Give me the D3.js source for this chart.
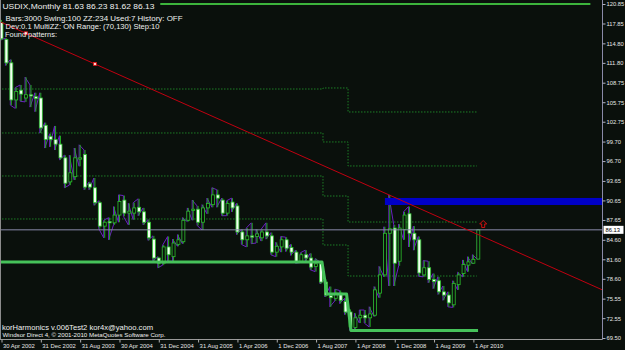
<!DOCTYPE html>
<html><head><meta charset="utf-8">
<script src="https://cdn.jsdelivr.net/npm/d3@7"></script>
<style>body{margin:0;background:#0a100c;overflow:hidden}svg{display:block}</style>
</head><body>
<svg id="c" width="625" height="350"></svg>
<script>
// ---- data (monthly bars, index 0 = Apr 2002 ... 97 = May 2010) ----
const opens  = [118.0,115.4,111.8,106.1,107.6,106.4,106.9,106.6,106.4,102.2,100.5,100.0,99.3,97.2,93.5,94.3,97.0,97.7,93.2,92.6,90.3,86.7,87.4,87.2,88.4,90.7,88.7,88.7,89.6,88.9,87.3,84.7,81.8,81.0,83.5,82.0,83.9,84.3,87.6,89.1,89.3,87.3,89.5,90.0,91.5,90.7,88.7,90.4,89.8,85.8,84.6,85.2,85.1,84.9,85.8,85.2,82.7,83.5,84.6,83.4,82.7,81.3,82.3,81.8,80.5,80.9,78.1,76.0,75.6,76.4,75.1,73.5,71.1,72.6,73.0,72.6,73.0,76.4,79.2,85.6,86.4,81.3,86.2,88.6,85.6,84.6,79.2,80.3,78.5,78.3,76.6,76.1,74.6,77.7,79.4,80.7,81.0,81.63];
const highs  = [118.4,115.6,112.3,108.0,108.4,109.6,108.4,107.2,107.2,102.6,100.9,102.1,100.6,97.6,97.6,98.7,99.2,98.4,93.5,94.1,90.6,87.6,88.0,89.7,91.5,91.4,90.2,90.3,90.9,89.5,87.7,85.2,82.0,83.8,85.1,84.7,85.4,88.0,89.5,90.7,89.8,90.0,91.0,92.6,92.3,91.0,90.6,91.0,90.2,86.2,86.4,87.2,86.2,86.2,87.2,85.7,84.2,85.1,85.0,83.9,83.0,82.6,83.0,82.5,81.7,81.2,78.5,77.4,77.0,76.8,75.6,73.9,73.3,73.8,73.8,74.3,77.4,80.5,86.6,91.5,86.9,87.0,88.9,89.7,86.7,85.1,81.4,81.3,79.4,78.9,77.5,76.6,78.3,79.6,81.5,82.0,82.3,86.23];
const lows   = [115.3,111.4,105.3,104.8,105.9,105.8,105.0,104.3,101.0,98.7,98.9,98.4,96.9,92.6,93.0,93.8,95.9,92.3,92.3,89.9,86.3,84.9,84.6,86.9,87.3,88.2,86.9,87.7,88.3,86.9,84.5,81.3,80.3,80.7,81.3,81.3,83.6,84.0,87.4,87.6,86.8,86.1,88.6,89.6,89.6,88.3,88.3,88.9,85.4,83.9,83.5,84.0,84.1,84.4,84.7,82.3,82.0,82.7,82.8,82.2,81.0,81.1,81.3,80.0,79.7,77.8,75.8,74.3,75.2,74.8,73.1,70.7,70.8,71.8,71.8,71.2,72.8,75.7,78.9,77.5,77.5,80.6,84.6,83.5,83.0,79.0,78.9,78.0,77.1,76.2,75.3,74.3,74.2,76.9,78.9,79.7,80.9,81.62];
const closes = [115.5,111.8,106.1,107.4,107.0,106.9,106.7,106.3,101.8,100.0,100.0,99.3,97.2,93.3,94.9,97.2,97.2,92.7,92.7,90.3,86.7,87.3,87.2,88.4,90.5,88.7,89.0,89.5,88.9,87.3,84.9,81.8,81.0,83.5,82.3,84.1,84.6,87.6,89.0,89.3,87.3,89.5,90.2,91.5,91.0,88.7,90.2,89.5,85.8,84.6,85.2,85.0,85.5,85.8,85.2,82.7,83.6,84.6,83.3,82.7,81.2,82.3,81.8,80.4,80.9,78.1,76.1,75.7,76.4,75.3,73.5,71.2,72.6,73.0,72.6,73.2,76.9,79.2,85.6,86.3,81.0,86.4,88.4,85.6,84.6,79.5,80.3,78.5,78.2,76.6,76.1,74.9,77.9,79.2,80.8,81.2,81.6,86.13];

const xTickIdx    = [0,8,16,24,32,40,48,56,64,72,80,88,96];
const xTickLabels = ["30 Apr 2002","31 Dec 2002","31 Aug 2003","30 Apr 2004","31 Dec 2004","31 Aug 2005","1 Apr 2006","1 Dec 2006","1 Aug 2007","1 Apr 2008","1 Dec 2008","1 Aug 2009","1 Apr 2010"];
const yTickLabels = ["120.85","117.85","114.80","111.80","108.75","105.75","102.75","99.70","96.70","93.65","90.65","87.65","84.60","81.60","78.60","75.55","72.55","69.50"];
const yTickValues = yTickLabels.map(Number);

// indicator levels
const bandIdx = [-0.5, 65.4, 70.5, 96.7];
const band1 = [107.78, 107.94, 104.25];
const band2 = [101.02, 99.64, 95.95];
const band3 = [94.41, 91.33, 87.33];
const band4 = [87.80, 83.80, 79.03];
const supportIdx = [-0.5, 65.2, 66.2, 70.2, 71.1, 96.95];
const supportVal = [81.18, 81.18, 76.26, 76.26, 70.65, 70.65];
const topLineIdx = [32.3, 119.8];
const topLineVal = [120.85, 120.85];
const trendIdx = [5, 19];
const trendVal = [116.34, 111.63];
const zoneIdx = 78;
const zoneVal = [91.03, 89.95];
const lastPrice = 86.13;
const arrowIdx = 98, arrowVal = 87.03;

const titleText = "USDIX,Monthly  81.63 86.23 81.62 86.13";
const infoLines = ["Bars:3000  Swing:100  ZZ:234  Used:7  History: OFF","Dev:0.1  MultiZZ: ON  Range: (70,130)  Step:10","Found patterns:"];
const footer1 = "korHarmonics v.006Test2 kor4x@yahoo.com";
const footer2 = "Windsor Direct 4, \u00A9 2001-2010 MetaQuotes Software Corp.";

// ---- drawing ----
const W = 625, H = 350, PR = 602.5, PB = 339.5;
const svg = d3.select("#c");
const x = d3.scaleLinear().domain([0, 97]).range([1.5, 478.3]);
const y = d3.scaleLinear().domain([69.5, 120.85]).range([338, 4]);
const FONT = "'Liberation Sans', Arial, sans-serif";

svg.append("rect").attr("width", W).attr("height", H).attr("fill", "#0a100c");
svg.append("defs").append("clipPath").attr("id", "plot")
  .append("rect").attr("x", 0).attr("y", 0).attr("width", PR).attr("height", PB);
const g = svg.append("g").attr("clip-path", "url(#plot)");

// dotted bands
const stepLine = d3.line().curve(d3.curveStepAfter).x(d => x(d[0])).y(d => y(d[1]));
[band1, band2, band3, band4].forEach(b => {
  const pts = b.map((v, k) => [bandIdx[k], v]);
  pts.push([bandIdx[3], b[2]]);
  g.append("path").attr("d", stepLine(pts)).attr("fill", "none")
    .attr("stroke", "#1d7f26").attr("stroke-width", 1).attr("stroke-dasharray", "1.5,1.5");
});

// purple trace
const bars = d3.range(opens.length);
const ppts = [];
bars.forEach(i => {
  if (closes[i] >= opens[i]) { ppts.push([i, lows[i]]); ppts.push([i, highs[i]]); }
  else { ppts.push([i, highs[i]]); ppts.push([i, lows[i]]); }
});
g.append("path").attr("d", d3.line().x(d => x(d[0]) - 1).y(d => y(d[1]))(ppts))
  .attr("fill", "none").attr("stroke", "#6a22c0").attr("stroke-width", 1);

// candles
const cg = g.append("g");
cg.selectAll("line.w").data(bars).join("line")
  .attr("x1", i => x(i)).attr("x2", i => x(i))
  .attr("y1", i => y(highs[i])).attr("y2", i => y(lows[i]))
  .attr("stroke", "#22a822").attr("stroke-width", 1);
cg.selectAll("rect.b").data(bars).join("rect")
  .attr("x", i => x(i) - 1.5).attr("width", 3)
  .attr("y", i => y(Math.max(opens[i], closes[i])))
  .attr("height", i => Math.max(1, Math.abs(y(opens[i]) - y(closes[i]))))
  .attr("fill", i => closes[i] >= opens[i] ? "#0a100c" : "#f2fff2")
  .attr("stroke", "#2cc02c").attr("stroke-width", 0.8);

// support lines
g.append("path").attr("d", d3.line().x(d => x(d[0])).y(d => y(d[1]))(supportIdx.map((v, k) => [v, supportVal[k]])))
  .attr("fill", "none").attr("stroke", "#46c25a").attr("stroke-width", 3).attr("stroke-linejoin", "round");
g.append("path").attr("d", d3.line().x(d => x(d[0])).y(d => y(d[1]))(topLineIdx.map((v, k) => [v, topLineVal[k]])))
  .attr("fill", "none").attr("stroke", "#3cb43c").attr("stroke-width", 2);

// blue zone
g.append("rect").attr("x", x(zoneIdx)).attr("width", PR - x(zoneIdx))
  .attr("y", y(zoneVal[0])).attr("height", y(zoneVal[1]) - y(zoneVal[0])).attr("fill", "#0000c8");

// current price line
g.append("line").attr("x1", 0).attr("x2", PR).attr("y1", y(lastPrice)).attr("y2", y(lastPrice))
  .attr("stroke", "#8a8aaa").attr("stroke-width", 1);

// trend line
const slope = (trendVal[1] - trendVal[0]) / (trendIdx[1] - trendIdx[0]);
const tl = i => trendVal[0] + slope * (i - trendIdx[0]);
const i0 = x.invert(0), i1 = x.invert(PR);
g.append("line").attr("x1", x(i0)).attr("y1", y(tl(i0))).attr("x2", x(i1)).attr("y2", y(tl(i1)))
  .attr("stroke", "#c00010").attr("stroke-width", 1);
trendIdx.forEach((t, k) => {
  g.append("rect").attr("x", x(t) - 1.5).attr("y", y(trendVal[k]) - 1.5).attr("width", 3).attr("height", 3)
    .attr("fill", "#ffd0d0").attr("stroke", "#e01010").attr("stroke-width", 0.8);
});

// arrow
const ax = x(arrowIdx), ay = y(arrowVal);
g.append("path")
  .attr("d", `M${ax},${ay-3.5} L${ax+3.5},${ay} L${ax+1.5},${ay} L${ax+1.5},${ay+3.5} L${ax-1.5},${ay+3.5} L${ax-1.5},${ay} L${ax-3.5},${ay} Z`)
  .attr("fill", "none").attr("stroke", "#d01010").attr("stroke-width", 1);

// frame
svg.append("line").attr("x1", 0.5).attr("x2", 0.5).attr("y1", 0).attr("y2", PB).attr("stroke", "#8c8c8c");
svg.append("line").attr("x1", 0).attr("x2", PR).attr("y1", PB).attr("y2", PB).attr("stroke", "#9a9a9a");

// right axis
const ra = svg.append("g").attr("transform", `translate(${PR},0)`)
  .call(d3.axisRight(y).tickValues(yTickValues).tickFormat((d, k) => yTickLabels[k]).tickSize(3).tickPadding(1));
ra.select(".domain").attr("stroke", "#8a8aa8").attr("d", `M0,0V${PB}`);
ra.selectAll(".tick line").attr("stroke", "#b0b0c0");
ra.selectAll(".tick text").attr("fill", "#e6e6e6").attr("font-family", FONT).attr("font-size", 5.8);

// price label box
svg.append("rect").attr("x", PR + 1).attr("y", y(lastPrice) - 4).attr("width", 20).attr("height", 8).attr("fill", "#ffffff");
svg.append("text").attr("x", PR + 3).attr("y", y(lastPrice) + 2.2).text("86.13")
  .attr("fill", "#000").attr("font-family", FONT).attr("font-size", 5.8);

// bottom axis
const ba = svg.append("g").attr("transform", `translate(0,${PB})`)
  .call(d3.axisBottom(x).tickValues(xTickIdx).tickFormat((d, k) => xTickLabels[k]).tickSize(3));
ba.select(".domain").remove();
ba.selectAll(".tick line").attr("stroke", "#b0b0b0");
ba.selectAll(".tick text").attr("fill", "#e6e6e6").attr("font-family", FONT).attr("font-size", 5.9)
  .attr("text-anchor", "start").attr("dx", 1).attr("y", 4).attr("dy", "0.71em");

// texts
function txt(s, tx, ty, fs, len) {
  svg.append("text").attr("x", tx).attr("y", ty).text(s).attr("fill", "#f0f0f0")
    .attr("font-family", FONT).attr("font-size", fs)
    .attr("textLength", len).attr("lengthAdjust", "spacingAndGlyphs");
}
txt(titleText, 2.5, 8.5, 6.6, 152);
txt(infoLines[0], 5.5, 21, 7.2, 177);
txt(infoLines[1], 5.5, 29, 7.2, 154);
txt(infoLines[2], 5, 37, 7.2, 52);
txt(footer1, 2, 329.5, 7.4, 151);
txt(footer2, 2.5, 336.5, 5.6, 163);
</script>
</body></html>
